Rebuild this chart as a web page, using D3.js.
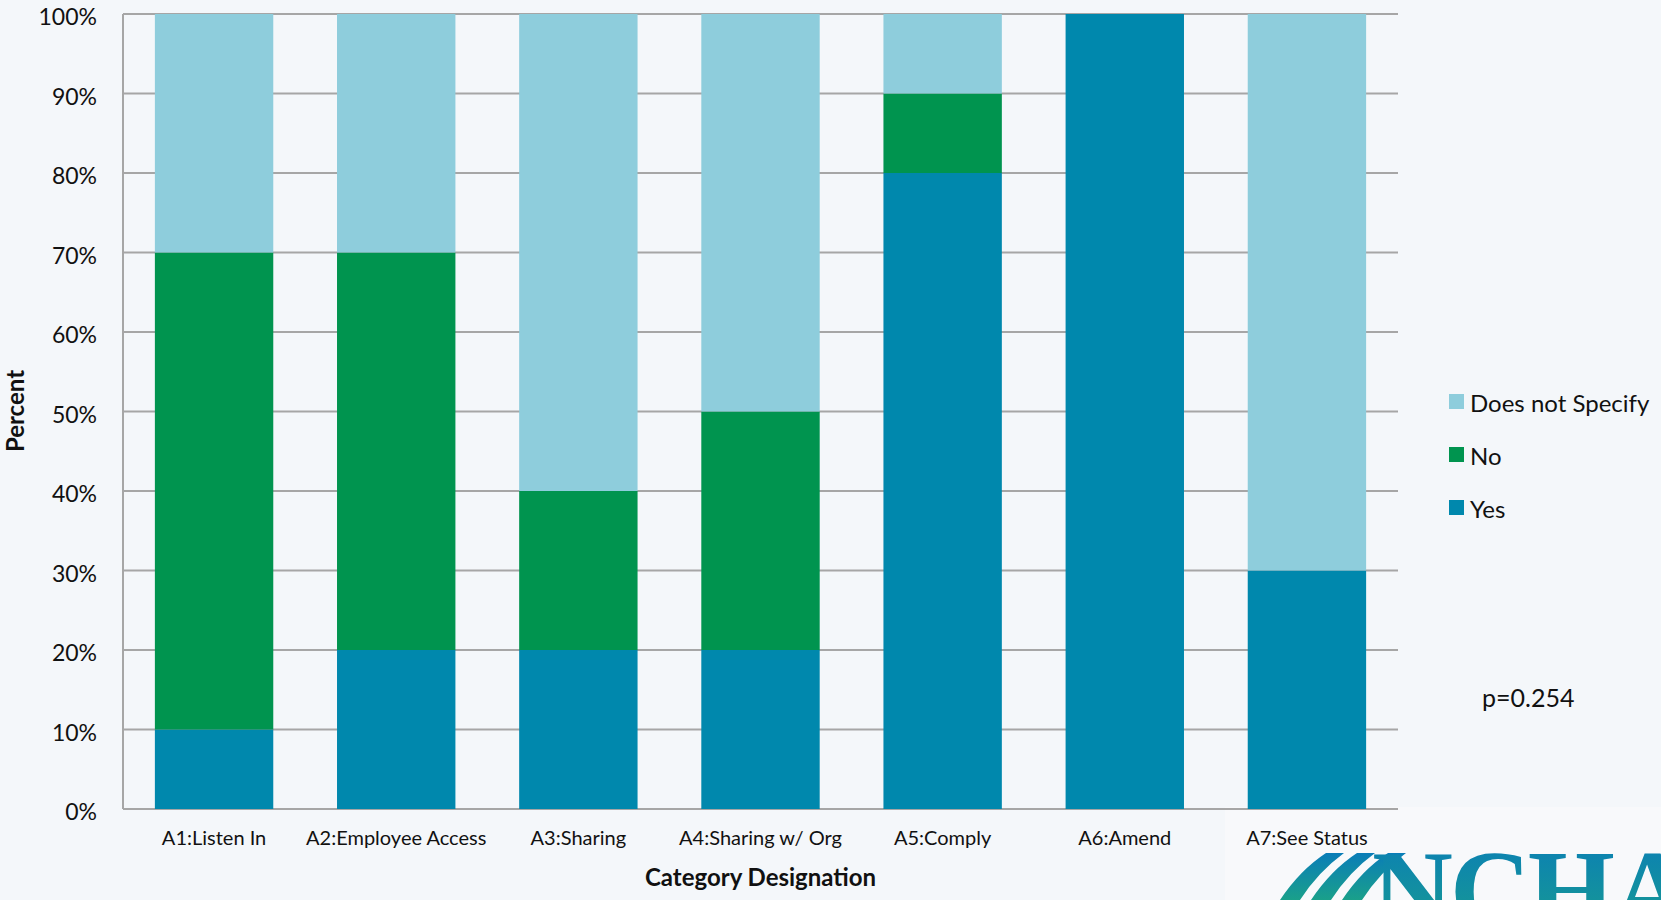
<!DOCTYPE html>
<html>
<head>
<meta charset="utf-8">
<script src="https://cdn.jsdelivr.net/npm/d3@7"></script>
<style>
  html, body { margin: 0; padding: 0; background: #f4f7fa; }
  svg { display: block; font-family: Lato, "Open Sans", sans-serif; }
</style>
</head>
<body>
<svg id="chart" width="1661" height="900"></svg>
<script>
// Chart data
const categories = ['A1:Listen In', 'A2:Employee Access', 'A3:Sharing', 'A4:Sharing w/ Org', 'A5:Comply', 'A6:Amend', 'A7:See Status'];
const seriesNames = ['Yes', 'No', 'Does not Specify'];
const yesValues = [10, 20, 20, 20, 80, 100, 30];
const noValues = [60, 50, 20, 30, 10, 0, 0];
const dnsValues = [30, 30, 60, 50, 10, 0, 70];
const yTicks = [0, 10, 20, 30, 40, 50, 60, 70, 80, 90, 100];

const colors = {
    'Yes': '#0088ad',
    'No': '#00944f',
    'Does not Specify': '#8ecddc'
};

const svg = d3.select('#chart');
const margin = { left: 123, top: 14, right: 263, bottom: 91 };
const width = 1661 - margin.left - margin.right;
const height = 900 - margin.top - margin.bottom;

// Logo backdrop and logo (bottom right)
const defs = svg.append('defs');
const grad = defs.append('linearGradient')
    .attr('id', 'logoGrad')
    .attr('x1', 0).attr('y1', 0).attr('x2', 0).attr('y2', 1);
grad.append('stop').attr('offset', '0%').attr('stop-color', '#0a7db8');
grad.append('stop').attr('offset', '100%').attr('stop-color', '#1aa08a');

svg.append('rect')
    .attr('x', 1225).attr('y', 807)
    .attr('width', 436).attr('height', 93)
    .attr('fill', '#f8f9fb');

const logo = svg.append('g');
[0, 1, 2].forEach(i => {
    const x0 = 1280 + i * 31;
    logo.append('path')
        .attr('d', `M${x0},900 Q${x0 + 20},870 ${x0 + 46},853 L${x0 + 64},853 Q${x0 + 38},872 ${x0 + 20},900 Z`)
        .attr('fill', 'url(#logoGrad)');
});
logo.append('text')
    .attr('x', 1372)
    .attr('y', 928)
    .attr('font-family', '"Liberation Serif", "DejaVu Serif", serif')
    .attr('font-weight', 'bold')
    .attr('font-size', 112)
    .attr('letter-spacing', -3)
    .attr('fill', 'url(#logoGrad)')
    .text('NCHA');

const g = svg.append('g')
    .attr('transform', `translate(${margin.left},${margin.top})`);

const x = d3.scaleBand()
    .domain(categories)
    .range([0, width])
    .paddingInner(0.35)
    .paddingOuter(0.175);

const y = d3.scaleLinear()
    .domain([0, 100])
    .range([height, 0]);

// Gridlines
g.append('g')
    .selectAll('line')
    .data(yTicks)
    .join('line')
    .attr('x1', 0)
    .attr('x2', width)
    .attr('y1', d => y(d))
    .attr('y2', d => y(d))
    .attr('stroke', '#a6a6a6')
    .attr('stroke-width', 2);

// Stack the series
const rows = categories.map((c, i) => ({
    category: c,
    'Yes': yesValues[i],
    'No': noValues[i],
    'Does not Specify': dnsValues[i]
}));
const stacked = d3.stack().keys(seriesNames)(rows);

g.append('g')
    .selectAll('g')
    .data(stacked)
    .join('g')
    .attr('fill', d => colors[d.key])
    .selectAll('rect')
    .data(d => d)
    .join('rect')
    .attr('x', d => x(d.data.category))
    .attr('width', x.bandwidth())
    .attr('y', d => y(d[1]))
    .attr('height', d => y(d[0]) - y(d[1]));

// Y axis line
g.append('line')
    .attr('x1', 0).attr('x2', 0)
    .attr('y1', 0).attr('y2', height)
    .attr('stroke', '#a6a6a6')
    .attr('stroke-width', 2);

// Y tick labels
g.append('g')
    .selectAll('text')
    .data(yTicks)
    .join('text')
    .attr('x', -26)
    .attr('y', d => y(d) + 3)
    .attr('dy', '0.36em')
    .attr('text-anchor', 'end')
    .attr('font-size', 23)
    .attr('fill', '#111')
    .text(d => d + '%');

// X tick labels
g.append('g')
    .selectAll('text')
    .data(categories)
    .join('text')
    .attr('x', d => x(d) + x.bandwidth() / 2)
    .attr('y', height + 36)
    .attr('text-anchor', 'middle')
    .attr('font-size', 20)
    .attr('fill', '#111')
    .text(d => d);

// Axis titles
svg.append('text')
    .attr('x', margin.left + width / 2)
    .attr('y', 886)
    .attr('text-anchor', 'middle')
    .attr('font-size', 24)
    .attr('font-weight', 'bold')
    .attr('fill', '#111')
    .text('Category Designation');

svg.append('text')
    .attr('transform', 'translate(24,411) rotate(-90)')
    .attr('text-anchor', 'middle')
    .attr('font-size', 24)
    .attr('font-weight', 'bold')
    .attr('fill', '#111')
    .text('Percent');

// Legend
const legendItems = ['Does not Specify', 'No', 'Yes'];
const legend = svg.append('g')
    .attr('transform', 'translate(1449,402)');
const li = legend.selectAll('g')
    .data(legendItems)
    .join('g')
    .attr('transform', (d, i) => `translate(0,${i * 53})`);
li.append('rect')
    .attr('x', 0).attr('y', -8)
    .attr('width', 15).attr('height', 15)
    .attr('fill', d => colors[d]);
li.append('text')
    .attr('x', 21)
    .attr('y', 1)
    .attr('dy', '0.36em')
    .attr('font-size', 24)
    .attr('fill', '#111')
    .text(d => d);

// p-value annotation
svg.append('text')
    .attr('x', 1482)
    .attr('y', 698)
    .attr('dy', '0.36em')
    .attr('font-size', 25)
    .attr('fill', '#111')
    .text('p=0.254');
</script>
</body>
</html>
